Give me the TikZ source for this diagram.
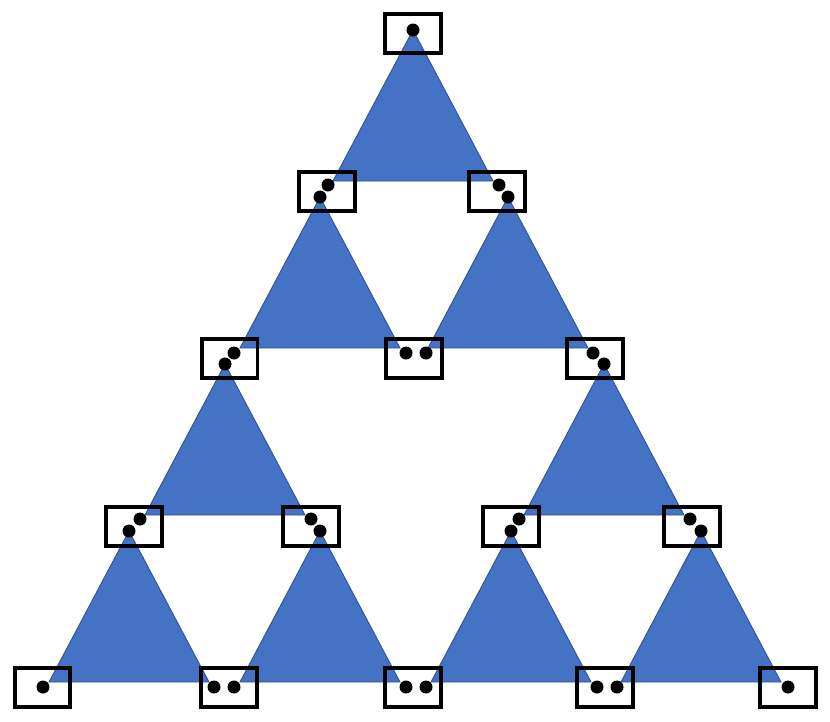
\documentclass[tikz,border=0pt]{standalone}
\usepackage{xcolor}
\usepackage{tikz}

\definecolor{triblue}{HTML}{4472C4}
\definecolor{triedge}{HTML}{2F528F}

\begin{document}
\begin{tikzpicture}[
	x=0.02cm, y=-0.02cm,
	tri/.style={fill=triblue, draw=triedge, line width=0.5pt, line join=miter},
	box/.style={draw, line width=0.08cm, minimum width=1.12cm, minimum height=0.78cm, inner sep=0pt},
	dot/.style={circle, fill=black, minimum size=0.26cm, inner sep=0pt}
	]
	\useasboundingbox (0,0) rectangle (830,721);
	% triangles
	\foreach \x/\y in {413/30, 320/197, 508/197, 225/364, 604/364, 129/531, 320/531, 511/531, 701/531}
		\filldraw[tri] (\x,\y) -- ++(80,151) -- ++(-160,0) -- cycle;
	% boxes
	\node[box] (b0) at (413,33) {};
	\node[box] (b1l) at (326.5,191) {};
	\node[box] (b1r) at (496.5,191) {};
	\node[box] (b2l) at (229.5,358) {};
	\node[box] (b2m) at (413.5,358) {};
	\node[box] (b2r) at (595,358) {};
	\node[box] (b3a) at (134,526) {};
	\node[box] (b3b) at (311,526) {};
	\node[box] (b3c) at (511,526) {};
	\node[box] (b3d) at (691.5,526) {};
	\node[box] (b4a) at (42.5,687) {};
	\node[box] (b4b) at (229,687) {};
	\node[box] (b4c) at (413,687) {};
	\node[box] (b4d) at (605,687) {};
	\node[box] (b4e) at (788,687) {};
	% dots
	\node[dot] (d0) at (413,30) {};
	\node[dot] (d1a) at (328,185) {};
	\node[dot] (d1b) at (320,197) {};
	\node[dot] (d1c) at (499,185) {};
	\node[dot] (d1d) at (508,197) {};
	\node[dot] (d2a) at (234,353) {};
	\node[dot] (d2b) at (225,364) {};
	\node[dot] (d2c) at (406,353) {};
	\node[dot] (d2d) at (426,353) {};
	\node[dot] (d2e) at (593,353) {};
	\node[dot] (d2f) at (604,364) {};
	\node[dot] (d3a) at (140,519) {};
	\node[dot] (d3b) at (129,531) {};
	\node[dot] (d3c) at (311,519) {};
	\node[dot] (d3d) at (320,531) {};
	\node[dot] (d3e) at (519,519) {};
	\node[dot] (d3f) at (511,531) {};
	\node[dot] (d3g) at (690,519) {};
	\node[dot] (d3h) at (701,531) {};
	\node[dot] (d4a) at (43,687) {};
	\node[dot] (d4b) at (214,687) {};
	\node[dot] (d4c) at (234,687) {};
	\node[dot] (d4d) at (406,687) {};
	\node[dot] (d4e) at (426,687) {};
	\node[dot] (d4f) at (597,687) {};
	\node[dot] (d4g) at (617,687) {};
	\node[dot] (d4h) at (788,687) {};
\end{tikzpicture}
\end{document}
